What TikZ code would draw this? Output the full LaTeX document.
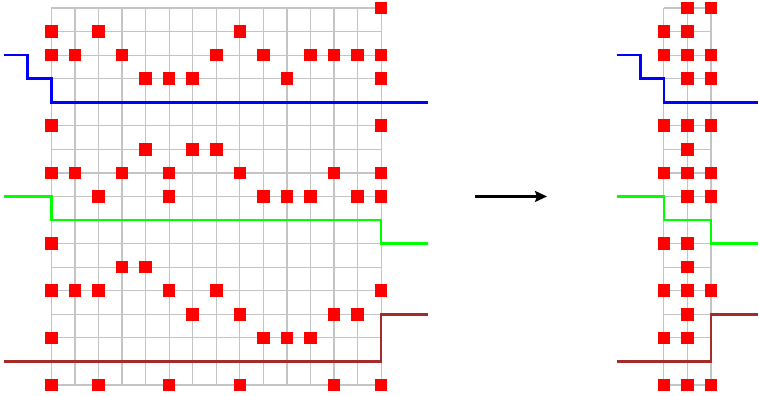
\documentclass[tikz,border=0pt]{standalone}
\usetikzlibrary{arrows.meta}
\definecolor{gridgray}{RGB}{196,196,196}
\definecolor{linebrown}{RGB}{165,42,42}
\definecolor{linegreen}{RGB}{0,255,0}
\definecolor{lineblue}{RGB}{0,0,255}
\begin{document}
\begin{tikzpicture}[x=23.56pt,y=-23.56pt,
  gridline/.style={draw=gridgray,line width=1.2pt},
  cell/.style={fill=red,draw=none,minimum size=12.6pt,inner sep=0pt,outer sep=0pt},
  level/.style={line width=2.6pt},
  flowarrow/.style={draw=black,line width=2.3pt,-{Stealth[length=12pt,width=11pt,inset=2pt]}}]
\useasboundingbox (-2.18,-0.34) rectangle (30.04,16.47);
% grids
\foreach \c in {0,...,14} {\draw[gridline] (\c,0) -- (\c,16);}
\foreach \c in {26,27,28} {\draw[gridline] (\c,0) -- (\c,16);}
\foreach \r in {0,...,16} {
  \draw[gridline] (0,\r) -- (14,\r);
  \draw[gridline] (26,\r) -- (28,\r);
}
% left squares
\foreach \r/\cols in {0/{14},1/{0,2,8},2/{0,1,3,7,9,11,12,13,14},3/{4,5,6,10,14},
  5/{0,14},6/{4,6,7},7/{0,1,3,5,8,12,14},8/{2,5,9,10,11,13,14},
  10/{0},11/{3,4},12/{0,1,2,5,7,14},13/{6,8,12,13},14/{0,9,10,11},16/{0,2,5,8,12,14}}{
  \foreach \c in \cols {\node[cell] (L-\r-\c) at (\c,\r) {};}
}
% right squares
\foreach \r/\cols in {0/{27,28},1/{26,27},2/{26,27,28},3/{27,28},
  5/{26,27,28},6/{27},7/{26,27,28},8/{27,28},
  10/{26,27},11/{27},12/{26,27,28},13/{27},14/{26,27},16/{26,27,28}}{
  \foreach \c in \cols {\node[cell] (R-\r-\c) at (\c,\r) {};}
}
% left level lines
\draw[level,lineblue] (-2,2) -- (-1,2) -- (-1,3) -- (0,3) -- (0,4) -- (16,4);
\draw[level,linegreen] (-2,8) -- (0,8) -- (0,9) -- (14,9) -- (14,10) -- (16,10);
\draw[level,linebrown] (-2,15) -- (14,15) -- (14,13) -- (16,13);
% right level lines
\draw[level,lineblue] (24,2) -- (25,2) -- (25,3) -- (26,3) -- (26,4) -- (30,4);
\draw[level,linegreen] (24,8) -- (26,8) -- (26,9) -- (28,9) -- (28,10) -- (30,10);
\draw[level,linebrown] (24,15) -- (28,15) -- (28,13) -- (30,13);
% arrow
\coordinate (arrS) at (18,8);
\coordinate (arrE) at (21.04,8);
\draw[flowarrow] (arrS) -- (arrE);
\end{tikzpicture}
\end{document}
